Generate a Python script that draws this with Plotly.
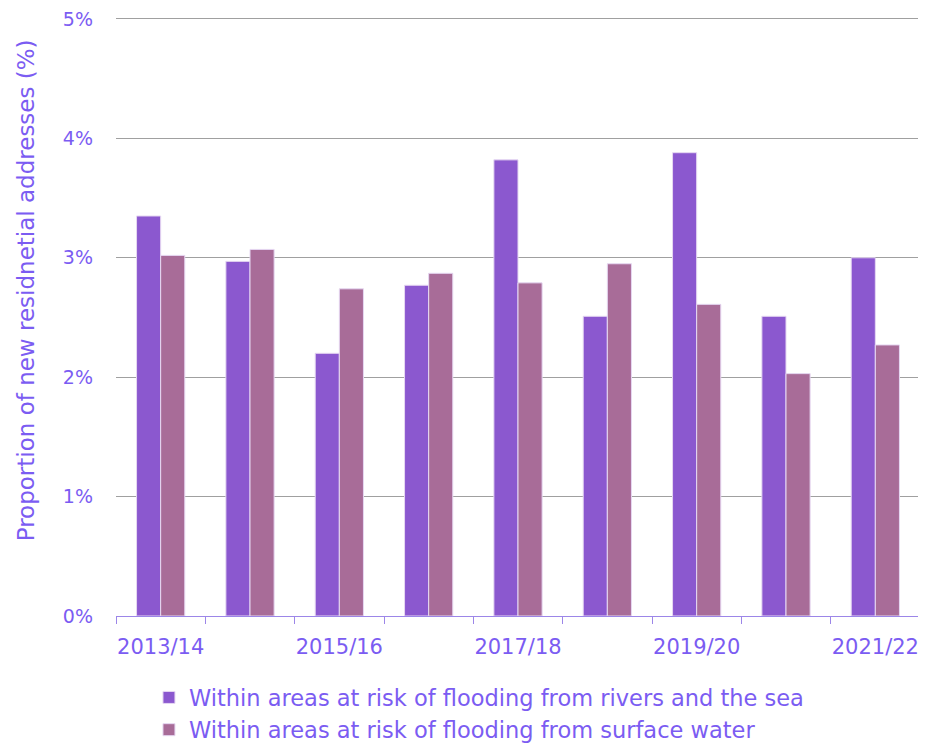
import plotly.graph_objects as go

categories = ["2013/14", "2014/15", "2015/16", "2016/17", "2017/18",
              "2018/19", "2019/20", "2020/21", "2021/22"]
rivers_sea = [3.35, 2.97, 2.20, 2.77, 3.82, 2.51, 3.88, 2.51, 3.00]
surface_water = [3.02, 3.07, 2.74, 2.87, 2.79, 2.95, 2.61, 2.03, 2.27]
tick_labels = ["2013/14", "", "2015/16", "", "2017/18", "", "2019/20", "", "2021/22"]
y_ticks = [0, 1, 2, 3, 4, 5]
y_tick_labels = ["0%", "1%", "2%", "3%", "4%", "5%"]
y_title = "Proportion of new residnetial addresses (%)"

TXT = "#7B5CF2"
FONT = "DejaVu Sans"

fig = go.Figure()
fig.add_trace(go.Bar(
    x=categories, y=rivers_sea,
    name="Within areas at risk of flooding from rivers and the sea",
    marker=dict(color="#8B58CF", line=dict(color="#E6D8F2", width=1)),
))
fig.add_trace(go.Bar(
    x=categories, y=surface_water,
    name="Within areas at risk of flooding from surface water",
    marker=dict(color="#A86C98", line=dict(color="#E6D8F2", width=1)),
))

# page body has an 8px margin: figure is drawn at (8, 8)
fig.update_layout(
    width=918, height=736,
    plot_bgcolor="white", paper_bgcolor="white",
    barmode="group", bargap=0.46, bargroupgap=0,
    margin=dict(l=108, r=6, t=5, b=128, autoexpand=False),
    font=dict(family=FONT, color=TXT, size=20),
    legend=dict(orientation="v", x=0.041, xanchor="left", y=-0.1, yanchor="top",
                font=dict(size=22.5, color=TXT), traceorder="normal",
                itemwidth=30, tracegroupgap=0),
    showlegend=True,
    annotations=[dict(
        text=y_title, textangle=-90, xref="paper", yref="paper",
        x=-0.112, y=0.54, xanchor="center", yanchor="middle",
        showarrow=False, font=dict(size=23, color=TXT),
    )],
)
fig.update_xaxes(
    type="category", tickmode="array", tickvals=categories, ticktext=tick_labels,
    tickson="boundaries", ticks="outside", ticklen=7, tickcolor="#9C86E8",
    showline=True, linecolor="#9C86E8", linewidth=1, tickangle=0,
    tickfont=dict(size=21, color=TXT), showgrid=False,
    ticklabelstandoff=12, automargin=False,
)
fig.update_yaxes(
    range=[0, 5.05], tickmode="array", tickvals=y_ticks, ticktext=y_tick_labels,
    showgrid=True, gridcolor="#A0A0A0", gridwidth=1,
    zeroline=False, showline=False, ticks="",
    ticklabelstandoff=22, automargin=False, ticklabeloverflow="allow",
    tickfont=dict(size=19, color=TXT),
)

fig.write_html("out.html")
